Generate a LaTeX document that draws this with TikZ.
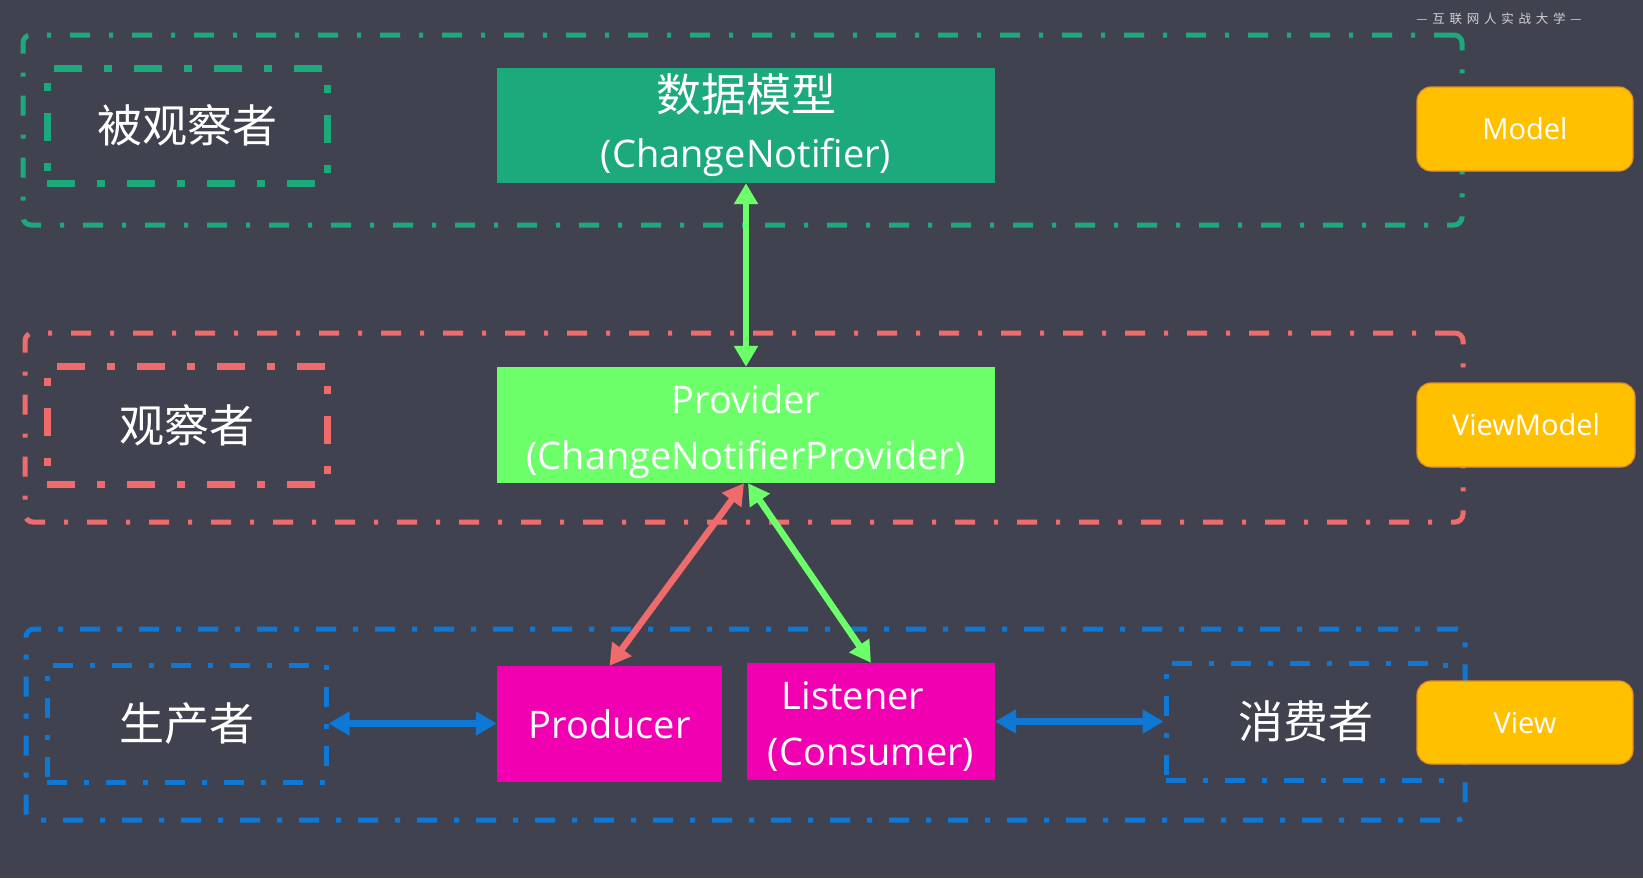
\documentclass[tikz,border=0pt]{standalone}
\usepackage{fontspec}
\setmainfont{Open Sans}
\newfontfamily\cjk{Noto Sans CJK SC}
\newfontfamily\wmfont[LetterSpace=38]{Noto Sans CJK SC}
\usetikzlibrary{arrows.meta}
\definecolor{bg}{RGB}{64,67,79}
\definecolor{teal}{RGB}{28,170,125}
\definecolor{lgreen}{RGB}{108,255,106}
\definecolor{coral}{RGB}{240,107,107}
\definecolor{cblue}{RGB}{15,120,212}
\definecolor{magen}{RGB}{240,0,176}
\definecolor{amber}{RGB}{255,192,0}
\definecolor{amberedge}{RGB}{230,140,40}
\definecolor{wmgray}{RGB}{210,210,214}
\newcommand\droptext[3]{\raisebox{-#1}[\height][\depth]{\begin{tabular}{@{}#2@{}}#3\end{tabular}}}
\tikzset{
  outerbox/.style={draw, line width=5pt, rounded corners=8pt,
    dash pattern=on 20pt off 19pt on 4pt off 19pt, inner sep=0pt},
  innerbox/.style={draw, line width=7pt,
    dash pattern=on 28pt off 22pt on 8pt off 22pt, inner sep=0pt,
    text=white, font=\cjk\fontsize{45}{50}\selectfont},
  blueinner/.style={draw=cblue, line width=5pt,
    dash pattern=on 20pt off 17pt on 5pt off 17pt, inner sep=0pt,
    text=white, font=\cjk\fontsize{45}{50}\selectfont},
  solidbox/.style={inner sep=0pt, text=white, align=center,
    font=\fontsize{38}{56}\selectfont},
  tagbox/.style={fill=amber, draw=amberedge, line width=1.2pt,
    rounded corners=14pt, inner sep=0pt, text=white,
    minimum width=216pt, minimum height=84pt,
    font=\fontsize{29}{34}\selectfont},
  link/.style={line width=6.5pt,
    {Triangle[width=23pt,length=21pt]}-{Triangle[width=23pt,length=21pt]}},
}
\begin{document}
\begin{tikzpicture}[x=1pt,y=-1pt]
\fill[bg] (0,0) rectangle (1643,878);
\useasboundingbox (0,0) rectangle (1643,878);

% watermark
\node[text=wmgray, font=\wmfont\fontsize{12.5}{13}\selectfont, inner sep=0pt] (wm) at (1499,19) {—互联网人实战大学—};

% outer group boxes
\node[outerbox, draw=teal, minimum width=1439pt, minimum height=190pt] (og) at (742.5,130) {};
\node[outerbox, draw=coral, minimum width=1438pt, minimum height=189pt] (or) at (744,427.5) {};
\node[outerbox, draw=cblue, minimum width=1439pt, minimum height=191pt,
      dash pattern=on 20pt off 17pt on 5pt off 17pt] (ob) at (745.5,724.5) {};

% inner label boxes
\node[innerbox, draw=teal, minimum width=280pt, minimum height=115pt] (ig) at (187,125.5) {被观察者};
\node[innerbox, draw=coral, minimum width=280pt, minimum height=118pt] (ir) at (187,425) {观察者};
\node[blueinner, minimum width=279pt, minimum height=117pt] (ib1) at (186.5,723.5) {生产者};
\node[blueinner, minimum width=279pt, minimum height=117pt] (ib2) at (1305.5,721.5) {消费者};

% solid boxes
\node[solidbox, fill=teal, minimum width=498pt, minimum height=115pt] (dm) at (746,125.5)
  {\droptext{3pt}{c}{{\cjk\fontsize{45}{56}\selectfont 数据模型}\\(ChangeNotifier)}};
\node[solidbox, fill=lgreen, minimum width=498pt, minimum height=116pt] (prov) at (746,425)
  {\droptext{5pt}{c}{Provider\\(ChangeNotifierProvider)}};
\node[solidbox, fill=magen, minimum width=225pt, minimum height=116pt] (prod) at (609.5,724)
  {Producer};
\node[solidbox, fill=magen, minimum width=248pt, minimum height=117pt] (lis) at (871,721.5)
  {\droptext{5pt}{l}{\hspace*{14pt}Listener\\(Consumer)}};

% tag boxes
\node[tagbox] (model) at (1525,129) {Model};
\node[tagbox, minimum width=218pt] (vm) at (1526,425) {ViewModel};
\node[tagbox, minimum height=83pt] (view) at (1525,722.5) {View};

% connectors
\draw[link, lgreen] (dm.south) -- (prov.north);
\draw[link, coral] ([xshift=-2pt]prov.south) -- (prod.north);
\draw[link, lgreen] ([xshift=2pt]prov.south) -- (lis.north);
\draw[link, cblue] (ib1.east) -- (ib1.east -| prod.west);
\draw[link, cblue] (lis.east) -- (lis.east -| ib2.west);
\end{tikzpicture}
\end{document}
